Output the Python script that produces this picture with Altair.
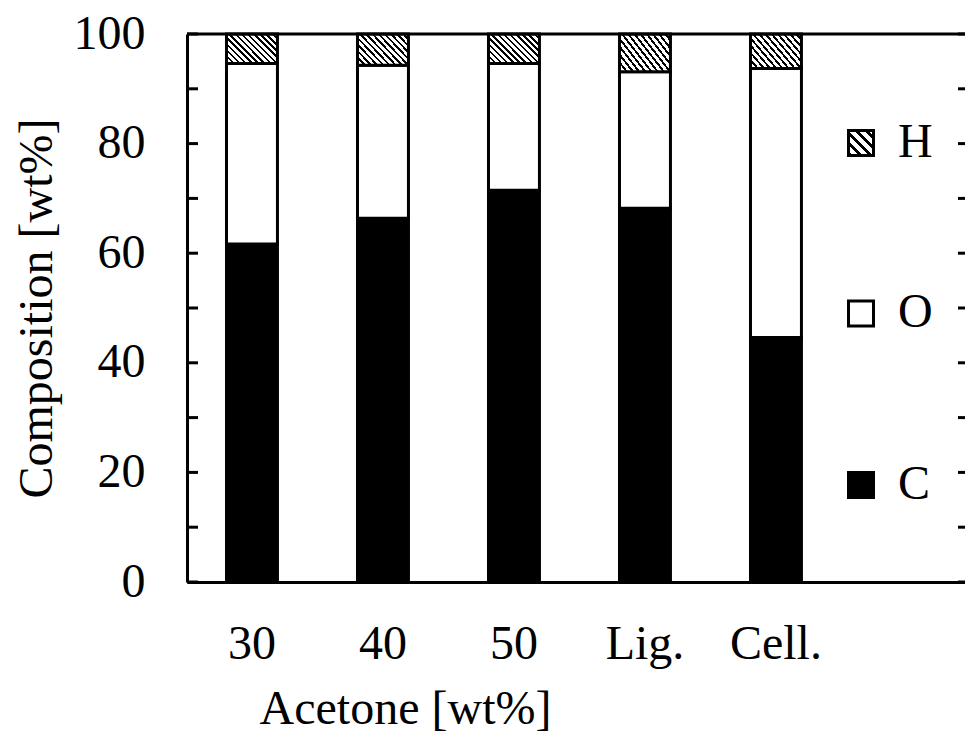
import altair as alt
import pandas as pd

# ---- data ----
categories = ["30", "40", "50", "Lig.", "Cell."]
carbon = [61.7, 66.4, 71.5, 68.2, 44.6]
oxygen = [32.9, 27.9, 23.1, 24.9, 49.1]
hydrogen = [5.4, 5.7, 5.4, 6.9, 6.3]
elements = ["C", "O", "H"]
legend_labels = ["H", "O", "C"]
y_label_values = [0, 20, 40, 60, 80, 100]
y_tick_values = [0, 10, 20, 30, 40, 50, 60, 70, 80, 90, 100]

# ---- build long table (stacked bottoms / tops) ----
rows = []
for i, cat in enumerate(categories):
    lo = 0.0
    for el, vals in zip(elements, [carbon, oxygen, hydrogen]):
        hi = lo + vals[i]
        rows.append({"cat": cat, "elem": el, "lo": lo, "hi": hi})
        lo = hi
bars = pd.DataFrame(rows)
ticks = pd.DataFrame({"t": y_tick_values})

W, H = 778, 548
FONT = "Liberation Serif"
FS = 48


def hatch(n, frac, x1, y1, x2, y2):
    stops = []
    for i in range(n):
        a = i / n
        b = (i + frac) / n
        c = (i + 1) / n
        stops += [
            alt.GradientStop(offset=a, color="black"),
            alt.GradientStop(offset=b, color="black"),
            alt.GradientStop(offset=b, color="white"),
            alt.GradientStop(offset=c, color="white"),
        ]
    return alt.LinearGradient(gradient="linear", stops=stops, x1=x1, y1=y1, x2=x2, y2=y2)


bar_hatch = hatch(13, 0.4, 0, 1, 1.18, 0.316)
legend_hatch = hatch(5, 0.4, 0, 1, 1, 0)

x_axis = alt.Axis(
    title="Acetone [wt%]", labelAngle=0, ticks=False, domain=True,
    domainColor="black", domainWidth=3, labelFont=FONT, labelFontSize=FS,
    labelColor="black", labelPadding=76, labelBaseline="alphabetic",
    titleFont=FONT, titleFontSize=FS, titleFontWeight="normal", titleColor="black",
    titleX=218, titleY=141, titleAlign="center", titleBaseline="alphabetic",
    grid=False,
)
y_axis = alt.Axis(
    title="Composition [wt%]", values=y_label_values, ticks=False, domain=True,
    domainColor="black", domainWidth=3, labelFont=FONT, labelFontSize=FS,
    labelColor="black", labelPadding=42, labelBaseline="middle",
    titleFont=FONT, titleFontSize=FS, titleFontWeight="normal", titleColor="black",
    titleAngle=270, titleX=-136, titleY=274, titleAlign="center",
    titleBaseline="alphabetic", grid=False,
)
x_scale = alt.Scale(paddingInner=0.611, paddingOuter=0.775, align=0.1945)
y_scale = alt.Scale(domain=[0, 100], nice=False, zero=True)

base = alt.Chart(bars).encode(
    x=alt.X("cat:N", sort=categories, scale=x_scale, axis=x_axis),
    y=alt.Y("lo:Q", scale=y_scale, axis=y_axis),
    y2="hi:Q",
)

fills = {"C": "black", "O": "white", "H": bar_hatch}
bar_layers = [
    base.transform_filter(alt.datum.elem == el).mark_bar(
        fill=fills[el], stroke="black", strokeWidth=3
    )
    for el in elements
]

left_ticks = alt.Chart(ticks).mark_rule(color="black", strokeWidth=3).encode(
    y=alt.Y("t:Q", scale=y_scale, axis=y_axis),
    x=alt.value(0), x2=alt.value(11),
)
right_ticks = alt.Chart(ticks).mark_rule(color="black", strokeWidth=3).encode(
    y=alt.Y("t:Q", scale=y_scale, axis=y_axis),
    x=alt.value(W - 7), x2=alt.value(W),
)
top_line = alt.Chart(pd.DataFrame({"t": [100]})).mark_rule(color="black", strokeWidth=3).encode(
    y=alt.Y("t:Q", scale=y_scale, axis=y_axis),
    x=alt.value(0), x2=alt.value(W),
)

# legend (drawn inside the plot area, as in the reference)
legend_fill = {"H": legend_hatch, "O": "white", "C": "black"}
legend_sym_y = {"H": 109, "O": 279.5, "C": 451}
legend_txt_y = {"H": 123, "O": 293, "C": 465}
legend_layers = []
for lbl in legend_labels:
    d = pd.DataFrame({"label": [lbl]})
    legend_layers.append(
        alt.Chart(d).mark_square(size=625, fill=legend_fill[lbl], stroke="black",
                                 strokeWidth=3, opacity=1, fillOpacity=1).encode(
            x=alt.value(674), y=alt.value(legend_sym_y[lbl])
        )
    )
    legend_layers.append(
        alt.Chart(d).mark_text(font=FONT, fontSize=FS, align="left",
                               baseline="alphabetic", color="black").encode(
            x=alt.value(711), y=alt.value(legend_txt_y[lbl]), text="label:N"
        )
    )

chart = alt.layer(
    *bar_layers, left_ticks, right_ticks, top_line, *legend_layers
).properties(
    width=W, height=H,
    autosize=alt.AutoSizeParams(type="none"),
    padding={"left": 187, "top": 34, "right": 0, "bottom": 150},
    background="white",
).configure_view(stroke=None)

chart.save("out.html", embed_options={"renderer": "svg", "actions": False})
